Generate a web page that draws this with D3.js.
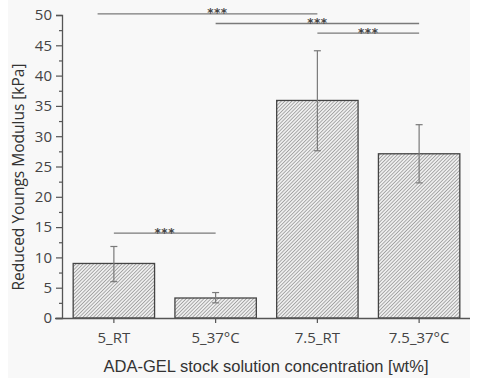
<!DOCTYPE html>
<html>
<head>
<meta charset="utf-8">
<script src="https://cdn.jsdelivr.net/npm/d3@7"></script>
<style>
  body { margin: 0; background: #fff; }
  svg { display: block; }
</style>
</head>
<body>
<div id="chart"></div>
<script>
const categories = ["5_RT", "5_37°C", "7.5_RT", "7.5_37°C"];
const means = [9.0, 3.3, 35.9, 27.1];
const errUpper = [11.8, 4.2, 44.1, 31.9];
const errLower = [6.0, 2.5, 27.6, 22.3];
const yTicks = [0, 5, 10, 15, 20, 25, 30, 35, 40, 45, 50];
// significance brackets: from category, to category, y value
const sigFrom = ["5_RT", "5_37°C", "7.5_RT", "5_RT"];
const sigTo = ["7.5_RT", "7.5_37°C", "7.5_37°C", "5_37°C"];
const sigY = [50.2, 48.6, 47.0, 14.0];

const width = 482, height = 378;
const margin = { top: 15, right: 12, bottom: 60, left: 63 };

const svg = d3.select("#chart").append("svg")
  .attr("width", width)
  .attr("height", height);

// faint scan-like background
svg.append("rect")
  .attr("x", 8).attr("y", 0)
  .attr("width", 462).attr("height", height)
  .attr("fill", "#f8f8f8");

const defs = svg.append("defs");
const pat = defs.append("pattern")
  .attr("id", "hatch")
  .attr("patternUnits", "userSpaceOnUse")
  .attr("width", 2.5).attr("height", 2.5)
  .attr("patternTransform", "rotate(45)");
pat.append("rect").attr("width", 2.5).attr("height", 2.5).attr("fill", "#eeeeee");
pat.append("line")
  .attr("x1", 0).attr("y1", 0).attr("x2", 0).attr("y2", 2.5)
  .attr("stroke", "#777").attr("stroke-width", 1.1);

const x = d3.scaleBand()
  .domain(categories)
  .range([margin.left, width - margin.right])
  .paddingInner(0.2)
  .paddingOuter(0.1);

const y = d3.scaleLinear()
  .domain([0, 50])
  .range([height - margin.bottom, margin.top]);

// bars
svg.append("g").selectAll("rect")
  .data(categories)
  .join("rect")
  .attr("x", d => x(d))
  .attr("y", (d, i) => y(means[i]))
  .attr("width", x.bandwidth())
  .attr("height", (d, i) => y(0) - y(means[i]))
  .attr("fill", "url(#hatch)")
  .attr("stroke", "#444")
  .attr("stroke-width", 1.3);

// error bars
const eb = svg.append("g").attr("stroke", "#7a7a7a").attr("stroke-width", 1.2);
categories.forEach((c, i) => {
  const cx = x(c) + x.bandwidth() / 2;
  eb.append("line").attr("x1", cx).attr("x2", cx)
    .attr("y1", y(errLower[i])).attr("y2", y(errUpper[i]));
  [errLower[i], errUpper[i]].forEach(v => {
    eb.append("line").attr("x1", cx - 3.5).attr("x2", cx + 3.5)
      .attr("y1", y(v)).attr("y2", y(v));
  });
});

// y axis
svg.append("g")
  .attr("transform", `translate(${margin.left - 1},0)`)
  .call(d3.axisLeft(y).tickValues(yTicks).tickSize(6).tickPadding(4));
svg.append("g")
  .attr("transform", `translate(${margin.left - 1},0)`)
  .call(d3.axisLeft(y).tickValues(d3.range(2.5, 50, 5)).tickSize(3).tickFormat(""))
  .call(g => g.select(".domain").remove());

// x axis
const xAxis = svg.append("g")
  .attr("transform", `translate(0,${y(0)})`)
  .call(d3.axisBottom(x).tickSize(5).tickPadding(9).tickSizeOuter(0));
xAxis.select(".domain").attr("d", `M${margin.left - 8},0.5H${width - margin.right}`);

svg.selectAll(".domain").attr("stroke", "#555").attr("stroke-width", 1.3);
svg.selectAll(".tick line").attr("stroke", "#555").attr("stroke-width", 1.2);
svg.selectAll(".tick text")
  .attr("fill", "#444")
  .style("font-family", "'Open Sans', sans-serif")
  .style("font-size", "15px");

// significance lines
const sig = svg.append("g");
sigFrom.forEach((f, i) => {
  const x1 = f === "5_RT" && i === 0 ? x(f) + x.bandwidth() * 0.3 : x(f) + x.bandwidth() / 2;
  const x2 = x(sigTo[i]) + x.bandwidth() / 2;
  const yy = y(sigY[i]);
  sig.append("line")
    .attr("x1", x1).attr("x2", x2)
    .attr("y1", yy).attr("y2", yy)
    .attr("stroke", "#7a7a7a").attr("stroke-width", 1.3);
  sig.append("text")
    .attr("x", (x1 + x2) / 2 + (i === 0 ? 10 : 0))
    .attr("y", yy + 3.5)
    .attr("text-anchor", "middle")
    .attr("fill", "#444")
    .style("font-family", "'DejaVu Sans', sans-serif")
    .style("font-size", "12px")
    .style("font-weight", "bold")
    .style("letter-spacing", "0.5px")
    .text("***");
});

// axis titles
svg.append("text")
  .attr("transform", "translate(24,177) rotate(-90)")
  .attr("text-anchor", "middle")
  .attr("fill", "#333")
  .style("font-family", "'Open Sans', sans-serif")
  .style("font-size", "15.5px")
  .text("Reduced Youngs Modulus [kPa]");

svg.append("text")
  .attr("x", 266)
  .attr("y", 372)
  .attr("text-anchor", "middle")
  .attr("fill", "#333")
  .style("font-family", "'Liberation Sans', Arial, sans-serif")
  .style("font-size", "16.5px")
  .text("ADA-GEL stock solution concentration [wt%]");
</script>
</body>
</html>
